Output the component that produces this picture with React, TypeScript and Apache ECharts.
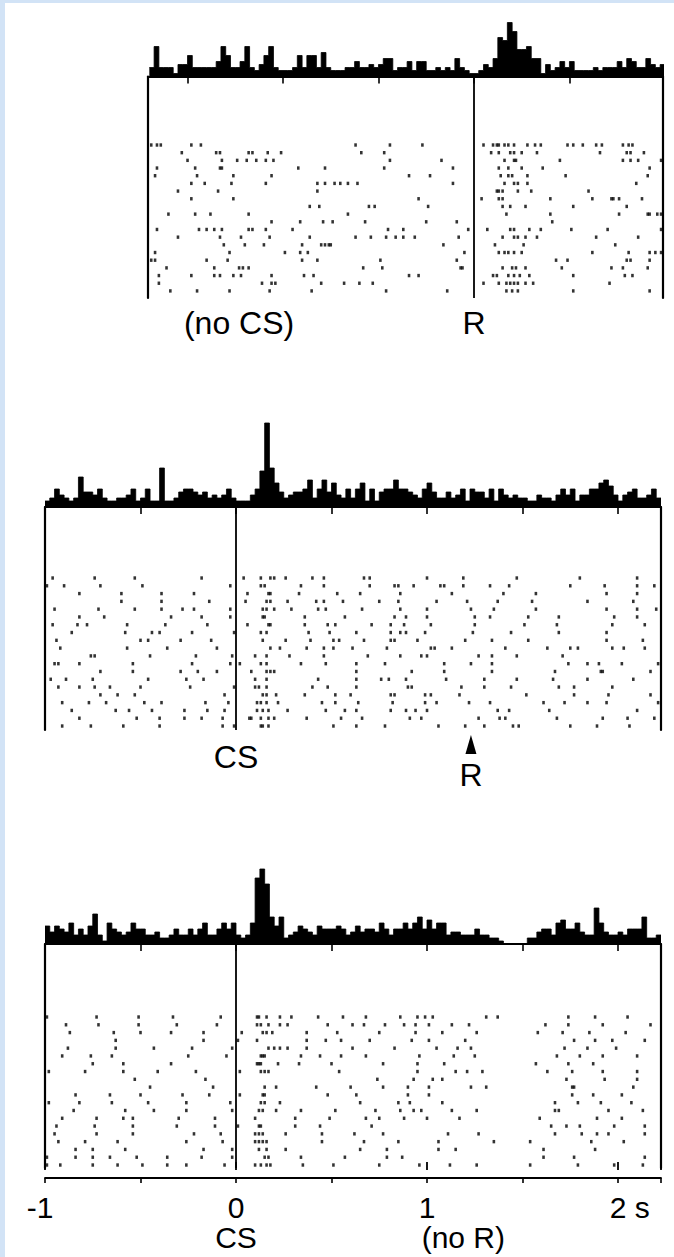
import React, { useEffect, useRef } from "react";
import * as echarts from "echarts";

// ---------- data ----------
const BIN = 0.025; // s per histogram bin
const R_LATENCY = 1.23; // s, reinforcement time after CS

// Panel 1: aligned on R (no CS)
const P1_MIN = -1.707;
const P1_MAX = 0.99;
const P1_HIST_START = -1.7;
const P1_HIST = [
  3, 10, 3, 3, 3, 1, 4, 4, 7, 3, 3, 3, 3, 3, 5, 10, 7, 3, 3, 5,
  10, 3, 2, 4, 7, 10, 3, 2, 2, 2, 3, 7, 3, 7, 7, 3, 8, 3, 2, 2,
  2, 3, 3, 5, 3, 3, 4, 3, 4, 6, 6, 2, 3, 3, 5, 2, 5, 5, 2, 2,
  3, 2, 3, 2, 6, 3, 2, 1,
  1, 2, 4, 3, 6, 13, 12, 18, 15, 9, 9, 10, 6, 6, 1, 4, 2, 3, 5, 3,
  5, 2, 2, 2, 2, 3, 2, 3, 3, 3, 5, 3, 6, 5, 3, 3, 6, 4, 3, 4,
];
const P1_TICKS = [-1.5, -1, -0.5, 0, 0.5];
const P1_RASTER = [
  [-1.69, -1.66, -1.64, -1.48, -1.43, -0.62, -0.44, -0.27, 0.05, 0.1, 0.12, 0.13, 0.16, 0.18, 0.21, 0.28, 0.32, 0.35, 0.49, 0.52, 0.57, 0.64, 0.67, 0.78, 0.81, 0.83],
  [-1.53, -1.35, -1.33, -1.18, -1.16, -1.08, -1.01, -0.59, -0.47, 0.09, 0.13, 0.19, 0.21, 0.25, 0.33, 0.66, 0.8, 0.82, 0.89],
  [-1.5, -1.32, -1.24, -1.19, -1.14, -1.09, -1.05, -0.44, -0.17, 0.16, 0.21, 0.22, 0.45, 0.78, 0.82, 0.86, 0.98],
  [-1.66, -1.46, -1.33, -1.32, -0.92, -0.78, -0.47, -0.11, 0.13, 0.18, 0.25, 0.36, 0.92],
  [-1.67, -1.45, -1.26, -1.06, -0.34, -0.23, 0.14, 0.18, 0.2, 0.28, 0.48, 0.91],
  [-1.48, -1.41, -1.27, -1.09, -0.82, -0.78, -0.73, -0.7, -0.66, -0.61, -0.11, 0.16, 0.21, 0.23, 0.28, 0.85],
  [-1.55, -1.34, -0.82, 0.12, 0.13, 0.15, 0.23, 0.3, 0.6],
  [-1.48, -1.26, -0.29, 0.04, 0.13, 0.15, 0.4, 0.62, 0.72, 0.73, 0.76, 0.88],
  [-0.86, -0.81, -0.55, -0.52, -0.24, 0.15, 0.19, 0.27, 0.52, 0.8],
  [-1.6, -1.46, -1.38, -1.18, -0.66, 0.17, 0.4, 0.76, 0.91, 0.92, 0.96, 0.98],
  [-1.06, -0.91, -0.79, -0.74, -0.57, -0.25, -0.09, 0.41],
  [-1.66, -1.44, -1.4, -1.36, -1.32, -1.18, -1.16, -1.09, -0.95, -0.45, -0.37, -0.03, 0.07, 0.19, 0.21, 0.29, 0.35, 0.51, 0.7, 0.98],
  [-1.55, -1.33, -1.22, -1.07, -0.86, -0.62, -0.54, -0.46, -0.41, -0.37, -0.31, -0.08, 0.15, 0.21, 0.23, 0.27, 0.33, 0.64, 0.86],
  [-1.31, -1.2, -1.1, -0.9, -0.8, -0.78, -0.76, -0.75, -0.16, 0.11, 0.26, 0.74],
  [-1.67, -1.28, -0.99, -0.91, -0.87, -0.05, 0.13, 0.16, 0.18, 0.21, 0.25, 0.62, 0.81, 0.92, 0.95, 0.98],
  [-1.69, -1.67, -1.4, -1.29, -0.9, -0.82, -0.49, -0.09, 0.43, 0.49, 0.8, 0.82, 0.92],
  [-1.61, -1.36, -1.23, -1.21, -1.18, -0.58, -0.48, -0.07, -0.06, 0.15, 0.2, 0.22, 0.27, 0.46, 0.72, 0.78, 0.91],
  [-1.65, -1.48, -1.36, -1.33, -1.26, -1.22, -1.06, -0.89, -0.84, -0.34, -0.29, 0.1, 0.12, 0.18, 0.21, 0.24, 0.29, 0.52, 0.79, 0.83],
  [-1.65, -1.11, -1.06, -1.04, -0.8, -0.68, -0.6, -0.53, 0.05, 0.13, 0.17, 0.19, 0.21, 0.23, 0.27, 0.31, 0.71],
  [-1.59, -1.45, -1.28, -1.07, -0.85, -0.46, -0.14, 0.17, 0.2, 0.23, 0.52, 0.92],
];

// Panel 2: CS and R
const P23_MIN = -1;
const P23_MAX = 2.225;
const P2_HIST = [
  2, 3, 6, 4, 3, 2, 3, 10, 5, 5, 4, 6, 3, 2, 2, 3, 3, 4, 6, 2,
  3, 6, 2, 2, 13, 2, 2, 3, 5, 6, 6, 5, 4, 5, 3, 4, 3, 4, 6, 3,
  2, 2, 2, 4, 6, 12, 28, 13, 8, 5, 3, 4, 5, 5, 6, 9, 3, 6, 9, 5,
  8, 4, 3, 6, 3, 6, 8, 2, 6, 2, 5, 6, 6, 9, 6, 6, 5, 4, 3, 6,
  8, 5, 3, 3, 5, 3, 4, 6, 2, 6, 5, 5, 3, 6, 2, 6, 4, 3, 4, 3,
  3, 2, 2, 4, 3, 3, 2, 4, 6, 4, 6, 2, 4, 4, 6, 6, 8, 9, 7, 4,
  2, 4, 5, 6, 3, 3, 4, 6, 3,
];
const P2_RASTER = [
  [-0.96, -0.74, -0.53, -0.18, 0.04, 0.13, 0.18, 0.2, 0.26, 0.4, 0.46, 0.67, 0.7, 1.0, 1.19, 1.47, 1.8, 2.1],
  [-0.99, -0.9, -0.71, -0.49, -0.03, 0.13, 0.15, 0.34, 0.46, 0.7, 0.83, 0.85, 0.93, 1.07, 1.09, 1.19, 1.33, 1.43, 1.75, 1.93, 2.1, 2.19],
  [-0.82, -0.6, -0.39, -0.22, 0.06, 0.17, 0.18, 0.33, 0.53, 0.65, 0.86, 1.13, 1.4, 1.57, 1.94, 2.1],
  [-0.6, -0.39, -0.14, 0.05, 0.16, 0.18, 0.27, 0.42, 0.46, 0.56, 0.75, 0.85, 1.05, 1.21, 1.37, 1.55, 1.84, 2.08],
  [-0.95, -0.72, -0.53, -0.39, -0.28, -0.22, -0.03, 0.14, 0.16, 0.2, 0.29, 0.43, 0.47, 0.66, 0.86, 1.0, 1.23, 1.35, 1.57, 1.94, 2.1, 2.2],
  [-0.82, -0.69, -0.34, -0.18, -0.03, 0.14, 0.15, 0.36, 0.57, 0.83, 0.89, 1.0, 1.25, 1.33, 1.53, 1.69, 1.98, 2.1],
  [-0.96, -0.83, -0.78, -0.57, -0.37, -0.15, 0.06, 0.17, 0.18, 0.36, 0.48, 0.52, 0.71, 0.81, 0.88, 1.02, 1.25, 1.51, 1.68, 1.97, 2.14],
  [-0.86, -0.58, -0.44, -0.4, -0.23, -0.01, 0.13, 0.16, 0.38, 0.49, 0.63, 0.81, 0.86, 0.89, 0.99, 1.24, 1.44, 1.69, 1.94],
  [-0.94, -0.5, -0.46, -0.29, -0.13, 0.14, 0.26, 0.39, 0.51, 0.54, 0.67, 0.81, 0.83, 0.95, 1.2, 1.34, 1.53, 1.94, 2.13],
  [-0.92, -0.57, -0.36, -0.1, 0.18, 0.23, 0.37, 0.46, 0.51, 0.61, 0.79, 1.02, 1.04, 1.13, 1.41, 1.63, 1.75, 1.79, 1.97, 2.03, 2.14],
  [-0.76, -0.74, -0.45, -0.21, -0.02, 0.1, 0.16, 0.28, 0.46, 0.69, 0.86, 0.97, 1.0, 1.27, 1.34, 1.47, 1.71],
  [-0.95, -0.93, -0.82, -0.54, -0.23, -0.03, 0.02, 0.13, 0.16, 0.34, 0.47, 0.63, 0.78, 1.09, 1.23, 1.34, 1.74, 1.84, 1.9, 2.02, 2.21],
  [-0.71, -0.54, -0.29, -0.2, -0.1, 0.08, 0.16, 0.18, 0.2, 0.63, 0.92, 1.09, 1.34, 1.67, 1.91, 1.92, 2.17],
  [-0.97, -0.89, -0.75, -0.46, -0.26, -0.17, 0.1, 0.16, 0.43, 0.63, 0.76, 0.8, 0.89, 1.1, 1.3, 1.47, 1.66, 1.84, 2.08],
  [-0.93, -0.82, -0.74, -0.66, -0.5, -0.24, -0.01, 0.1, 0.12, 0.16, 0.4, 0.48, 0.63, 0.9, 0.92, 1.18, 1.3, 1.44, 1.69, 1.77, 1.97],
  [-0.71, -0.62, -0.53, -0.06, 0.14, 0.16, 0.21, 0.36, 0.52, 0.6, 0.81, 0.83, 0.99, 1.02, 1.17, 1.52, 1.77, 1.95, 2.17],
  [-0.91, -0.77, -0.68, -0.48, -0.39, -0.16, -0.04, 0.11, 0.13, 0.16, 0.22, 0.45, 0.52, 0.64, 0.82, 0.99, 1.05, 1.22, 1.33, 1.61, 1.72, 1.84, 1.94, 2.21],
  [-0.86, -0.63, -0.56, -0.44, -0.27, -0.15, -0.06, 0.11, 0.14, 0.17, 0.27, 0.47, 0.57, 0.63, 0.81, 0.89, 0.94, 1.0, 1.37, 1.43, 1.64, 2.1],
  [-0.82, -0.52, -0.4, -0.27, -0.18, -0.07, 0.07, 0.08, 0.13, 0.17, 0.2, 0.37, 0.55, 0.66, 0.91, 0.97, 1.27, 1.38, 1.41, 1.68, 1.92, 2.05, 2.19],
  [-0.91, -0.76, -0.59, -0.4, -0.07, -0.01, 0.13, 0.14, 0.17, 0.51, 0.63, 0.78, 1.06, 1.2, 1.3, 1.45, 1.48, 1.75, 1.89, 2.06],
];

// Panel 3: CS, no R
const P3_HIST = [
  6, 4, 6, 5, 4, 7, 3, 5, 3, 6, 10, 3, 1, 7, 5, 4, 3, 4, 7, 5,
  5, 3, 3, 4, 2, 2, 3, 5, 3, 3, 5, 3, 5, 7, 3, 3, 5, 7, 5, 7,
  3, 2, 3, 7, 22, 25, 20, 9, 6, 9, 2, 3, 4, 6, 5, 4, 3, 6, 5, 5,
  5, 6, 5, 3, 4, 6, 4, 5, 5, 4, 7, 5, 3, 5, 5, 7, 5, 7, 9, 5,
  8, 5, 7, 7, 3, 4, 4, 3, 3, 3, 5, 3, 3, 2, 2, 1, 0, 0, 0, 0,
  0, 2, 2, 4, 5, 5, 3, 7, 8, 5, 5, 7, 4, 3, 3, 12, 7, 4, 3, 3,
  4, 3, 5, 5, 5, 9, 2, 2, 3,
];
const P3_RASTER = [
  [-0.99, -0.73, -0.51, -0.33, -0.08, 0.11, 0.12, 0.16, 0.23, 0.29, 0.43, 0.56, 0.68, 0.86, 0.95, 0.99, 1.03, 1.31, 1.37, 1.74, 1.88, 2.05],
  [-0.89, -0.72, -0.51, -0.31, -0.1, 0.11, 0.13, 0.17, 0.23, 0.27, 0.48, 0.61, 0.67, 0.78, 0.88, 0.94, 1.01, 1.13, 1.22, 1.62, 1.74, 1.92, 2.17],
  [-0.87, -0.64, -0.5, -0.34, -0.17, 0.03, 0.14, 0.16, 0.19, 0.37, 0.53, 0.75, 0.94, 1.08, 1.26, 1.58, 1.71, 1.85, 2.04],
  [-0.63, -0.17, 0.01, 0.11, 0.37, 0.47, 0.55, 0.7, 0.92, 1.01, 1.2, 1.77, 1.88, 1.97, 2.14],
  [-0.88, -0.63, -0.43, -0.23, -0.02, 0.17, 0.2, 0.23, 0.27, 0.37, 0.61, 0.83, 1.05, 1.16, 1.23, 1.72, 1.84, 1.99],
  [-0.91, -0.76, -0.65, -0.25, -0.05, 0.13, 0.14, 0.15, 0.34, 0.44, 0.55, 0.68, 0.96, 1.14, 1.25, 1.68, 1.8, 1.92, 2.1],
  [-0.75, -0.59, -0.34, 0.11, 0.12, 0.13, 0.22, 0.33, 0.5, 0.77, 0.95, 1.09, 1.57, 1.74, 1.87],
  [-0.98, -0.79, -0.59, -0.41, -0.21, 0.02, 0.13, 0.15, 0.17, 0.54, 0.95, 1.15, 1.21, 1.29, 1.63, 1.76, 1.92, 2.1],
  [-0.53, -0.16, 0.74, 0.93, 1.03, 1.08, 1.73, 1.93, 2.1],
  [-0.45, -0.12, 0.15, 0.21, 0.42, 0.6, 0.77, 0.9, 1.01, 1.23, 1.31, 1.76, 1.77, 2.08],
  [-0.84, -0.66, -0.5, -0.28, -0.14, 0.02, 0.14, 0.15, 0.48, 0.63, 0.9, 1.01, 1.76, 1.87, 2.02],
  [-0.98, -0.82, -0.65, -0.46, -0.26, -0.03, 0.13, 0.15, 0.23, 0.65, 0.85, 0.91, 1.08, 1.67, 1.79, 1.91, 2.07],
  [-0.85, -0.58, -0.43, -0.26, -0.02, 0.12, 0.14, 0.21, 0.34, 0.52, 0.73, 0.86, 0.93, 0.97, 1.13, 1.26, 1.67, 1.69, 1.95, 2.13],
  [-0.91, -0.73, -0.59, -0.54, -0.3, -0.11, 0.1, 0.31, 0.49, 0.68, 0.75, 0.88, 1.0, 1.17, 1.59, 1.89, 2.02],
  [-0.94, -0.74, -0.54, -0.31, -0.11, 0.01, 0.12, 0.13, 0.31, 0.44, 0.71, 1.65, 1.73, 1.8, 1.98, 2.14],
  [-0.95, -0.73, -0.54, -0.22, -0.08, 0.1, 0.12, 0.14, 0.26, 0.45, 0.62, 0.77, 1.11, 1.27, 1.67, 1.81, 1.89, 1.95, 2.14],
  [-0.93, -0.79, -0.62, -0.26, -0.07, 0.1, 0.12, 0.14, 0.16, 0.45, 0.67, 0.85, 1.06, 1.35, 1.54, 1.86, 2.03],
  [-0.84, -0.75, -0.58, -0.17, -0.02, 0.12, 0.16, 0.26, 0.65, 0.79, 1.06, 1.15, 1.61, 1.88],
  [-0.99, -0.84, -0.75, -0.66, -0.52, -0.36, -0.18, -0.02, 0.15, 0.17, 0.34, 0.57, 0.79, 0.87, 1.61, 1.77, 2.14],
  [-0.99, -0.92, -0.75, -0.62, -0.49, -0.36, -0.26, -0.06, 0.1, 0.13, 0.16, 0.18, 0.35, 0.51, 0.75, 0.96, 1.12, 1.26, 1.54, 1.79, 1.98, 2.13],
];

const TIME_LABELS = [
  { v: -1, text: "-1" },
  { v: 0, text: "0" },
  { v: 1, text: "1" },
  { v: 2, text: "2 s" },
];

// ---------- layout ----------
const W = 674;
const H = 1257;
const FONT = "'Liberation Sans', Arial, Helvetica, sans-serif";
const FS = 32;
const FS_AXIS = 30;
const PX_PER_COUNT = 3;

const PANELS = [
  { left: 148, right: 663, base: 76.5, bottom: 298, row1: 145, gap: 7.68, histH: 60 },
  { left: 45, right: 661, base: 507, bottom: 730, row1: 578, gap: 7.79, histH: 90 },
  { left: 45, right: 661, base: 944, bottom: 1168, row1: 1017, gap: 7.79, histH: 90 },
];
const TIME_AXIS_Y = 1178;

const histData = (start: number, vals: number[]) => {
  const d = vals.map((v, i) => [start + i * BIN, v]);
  d.push([start + vals.length * BIN, vals[vals.length - 1]]);
  return d;
};
const rasterData = (rows: number[][]) =>
  rows.flatMap((row, r) => row.map((t) => [t, r + 1]));

export default function App() {
  const ref = useRef<HTMLDivElement>(null);

  useEffect(() => {
    if (!ref.current) return;
    const chart = echarts.init(ref.current, null, { renderer: "svg" });

    const grids: any[] = [];
    const xAxes: any[] = [];
    const yAxes: any[] = [];
    const series: any[] = [];

    const hists = [
      { start: P1_HIST_START, vals: P1_HIST },
      { start: P23_MIN, vals: P2_HIST },
      { start: P23_MIN, vals: P3_HIST },
    ];
    const rasters = [P1_RASTER, P2_RASTER, P3_RASTER];

    PANELS.forEach((p, k) => {
      const min = k === 0 ? P1_MIN : P23_MIN;
      const max = k === 0 ? P1_MAX : P23_MAX;
      const gH = grids.length;
      grids.push({ left: p.left, width: p.right - p.left, top: p.base - p.histH, height: p.histH });
      const gR = grids.length;
      grids.push({ left: p.left, width: p.right - p.left, top: p.base, height: p.bottom - p.base });

      const hx = xAxes.length;
      xAxes.push({
        type: "value",
        gridIndex: gH,
        min,
        max,
        interval: k === 0 ? undefined : 0.5,
        axisLine: { show: true, onZero: false, lineStyle: { color: "#000", width: 1.8 } },
        axisTick: {
          show: true,
          length: 7,
          lineStyle: { color: "#000", width: 1.6 },
          ...(k === 0 ? { customValues: P1_TICKS } : {}),
        },
        axisLabel: { show: false },
        splitLine: { show: false },
      });
      const hy = yAxes.length;
      yAxes.push({ type: "value", gridIndex: gH, min: 0, max: p.histH / PX_PER_COUNT, show: false });

      const rx = xAxes.length;
      xAxes.push({ type: "value", gridIndex: gR, min, max, show: false });
      const rowMin = 1 - (p.row1 - p.base) / p.gap;
      const rowMax = 1 + (p.bottom - p.row1) / p.gap;
      const ryL = yAxes.length;
      const yLine = {
        type: "value",
        gridIndex: gR,
        min: rowMin,
        max: rowMax,
        inverse: true,
        axisLine: { show: true, onZero: false, lineStyle: { color: "#000", width: 2.2 } },
        axisTick: { show: false },
        axisLabel: { show: false },
        splitLine: { show: false },
      };
      yAxes.push({ ...yLine, position: "left" });
      yAxes.push({ ...yLine, position: "right" });

      series.push({
        type: "line",
        xAxisIndex: hx,
        yAxisIndex: hy,
        step: "end",
        symbol: "none",
        data: histData(hists[k].start, hists[k].vals),
        lineStyle: { color: "#000", width: 0.8 },
        areaStyle: { color: "#000", opacity: 1 },
        silent: true,
      });
      series.push({
        type: "scatter",
        xAxisIndex: rx,
        yAxisIndex: ryL,
        symbol: "rect",
        symbolSize: [2.6, 3.4],
        itemStyle: { color: "#000" },
        data: rasterData(rasters[k]),
        silent: true,
        markLine: {
          silent: true,
          symbol: "none",
          label: { show: false },
          lineStyle: { color: "#000", width: 1.8, type: "solid" },
          data: [{ xAxis: 0 }],
        },
      });
    });

    // bottom time axis (panel 3)
    const gT = grids.length;
    grids.push({ left: PANELS[2].left, width: PANELS[2].right - PANELS[2].left, top: TIME_AXIS_Y - 8, height: 8 });
    const tMinor = xAxes.length;
    xAxes.push({
      type: "value",
      gridIndex: gT,
      min: P23_MIN,
      max: P23_MAX,
      interval: 0.5,
      axisLine: { show: true, onZero: false, lineStyle: { color: "#000", width: 1.8 } },
      axisTick: { show: true, length: 5, lineStyle: { color: "#000", width: 1.6 } },
      axisLabel: { show: false },
      splitLine: { show: false },
    });
    xAxes.push({
      type: "value",
      gridIndex: gT,
      min: P23_MIN,
      max: P23_MAX,
      interval: 1,
      axisLine: { show: false, onZero: false },
      axisTick: { show: true, length: 8, lineStyle: { color: "#000", width: 1.8 } },
      axisLabel: { show: false },
      splitLine: { show: false },
    });
    yAxes.push({ type: "value", gridIndex: gT, show: false });

    chart.setOption({
      animation: false,
      backgroundColor: "#ffffff",
      grid: grids,
      xAxis: xAxes,
      yAxis: yAxes,
      series,
    });

    const px = (axisIndex: number, v: number) =>
      chart.convertToPixel({ xAxisIndex: axisIndex }, v) as number;
    const txt = (text: string, x: number, y: number, align = "center", size = FS) => ({
      type: "text",
      x,
      y,
      silent: true,
      style: {
        text,
        fill: "#000",
        font: `${size}px ${FONT}`,
        fontSize: size,
        fontFamily: FONT,
        align,
        verticalAlign: "middle",
        textAlign: align,
        textVerticalAlign: "middle",
      },
    });
    const digitW = 0.556 * FS_AXIS;
    const arrowX = px(3, R_LATENCY);
    const graphics: any[] = [
      { type: "rect", shape: { x: 0, y: 0, width: 5, height: H }, style: { fill: "#d2e3f6" }, silent: true },
      { type: "rect", shape: { x: 0, y: 0, width: W, height: 3 }, style: { fill: "#d2e3f6" }, silent: true },
      txt("(no CS)", px(1, -R_LATENCY), 323),
      txt("R", px(1, 0), 323),
      txt("CS", px(3, 0), 757),
      {
        type: "polygon",
        silent: true,
        shape: {
          points: [
            [arrowX, 735],
            [arrowX - 5.5, 754],
            [arrowX + 5.5, 754],
          ],
        },
        style: { fill: "#000" },
      },
      txt("R", arrowX, 775),
      txt("CS", px(5, 0), 1237, "center", FS_AXIS),
      txt("(no R)", px(5, R_LATENCY - 0.04), 1237, "center", FS_AXIS),
    ];
    TIME_LABELS.forEach((l) => {
      const x = px(tMinor, l.v);
      if (l.text.startsWith("-")) graphics.push(txt(l.text, x + digitW / 2, 1207, "right", FS_AXIS));
      else if (l.text.length > 1) graphics.push(txt(l.text, x - digitW / 2, 1207, "left", FS_AXIS));
      else graphics.push(txt(l.text, x, 1207, "center", FS_AXIS));
    });
    chart.setOption({ graphic: graphics });

    return () => chart.dispose();
  }, []);

  return (
    <div style={{ position: "absolute", left: 0, top: 0, width: W, height: H, background: "#fff" }}>
      <div ref={ref} style={{ width: W, height: H }} />
    </div>
  );
}
